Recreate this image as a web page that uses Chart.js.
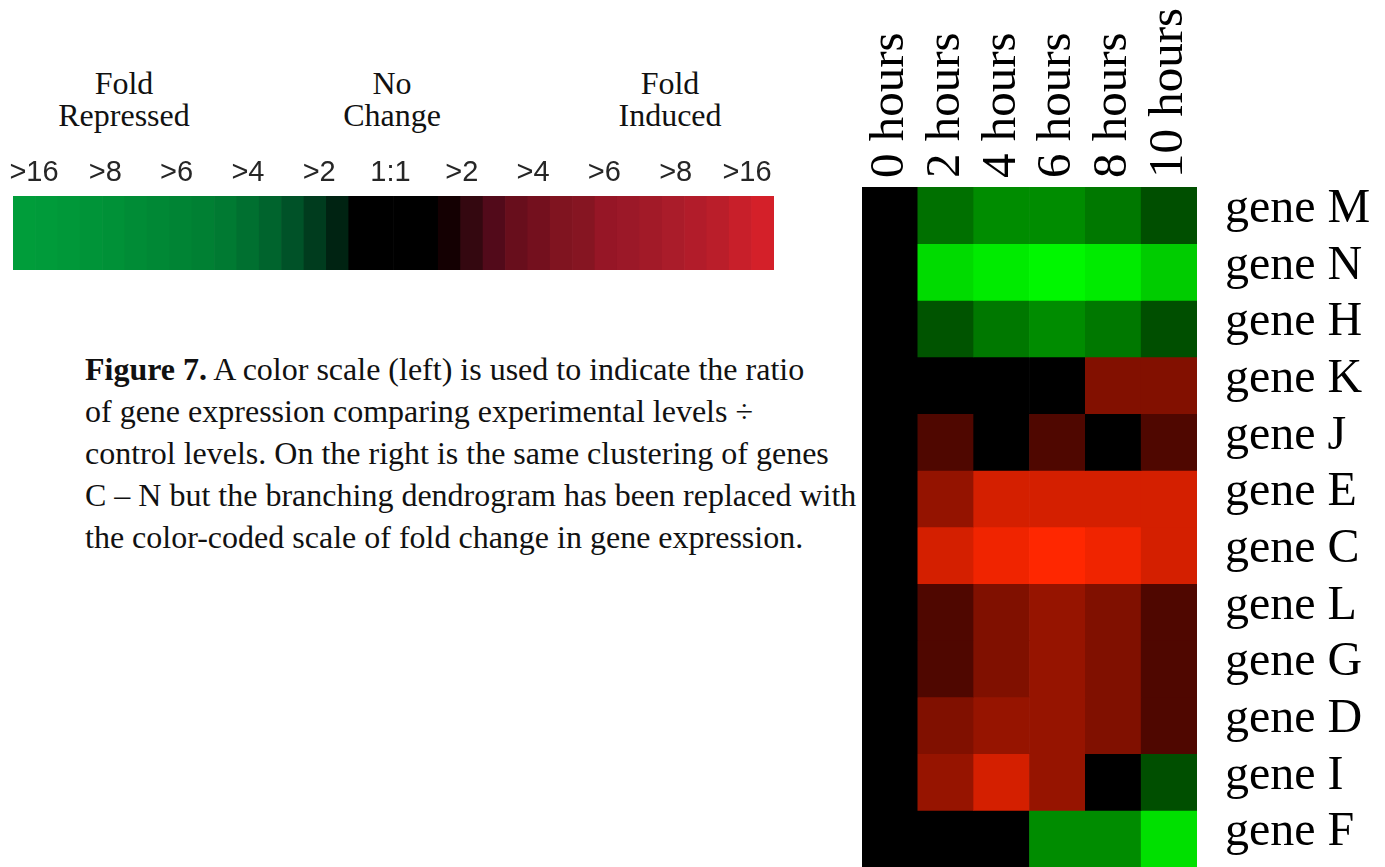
<!DOCTYPE html>
<html><head><meta charset="utf-8">
<script src="https://cdn.jsdelivr.net/npm/chart.js@4.4.1/dist/chart.umd.min.js"></script>
<style>
html,body{margin:0;padding:0;background:#fff;width:1385px;height:867px;overflow:hidden;}
.abs{position:absolute;}
.hdr{font-family:"Liberation Serif","Times New Roman",serif;font-size:32px;line-height:32px;text-align:center;width:240px;color:#111;}
#caption{left:85px;top:348px;font-family:"Liberation Serif","Times New Roman",serif;font-size:32px;line-height:42px;white-space:nowrap;color:#111;}
</style></head><body>
<div class="abs hdr" style="left:4px;top:67px">Fold<br>Repressed</div>
<div class="abs hdr" style="left:272px;top:67px">No<br>Change</div>
<div class="abs hdr" style="left:550px;top:67px">Fold<br>Induced</div>
<div id="caption" class="abs"><b>Figure 7.</b> A color scale (left) is used to indicate the ratio<br>of gene expression comparing experimental levels ÷<br>control levels. On the right is the same clustering of genes<br>C – N but the branching dendrogram has been replaced with<br>the color-coded scale of fold change in gene expression.</div>
<div class="abs" style="left:0;top:140px;width:790px;height:140px"><canvas id="scale"></canvas></div>
<div class="abs" style="left:862px;top:0;width:523px;height:867px"><canvas id="heat"></canvas></div>
<script>
// ---- heatmap data (signed intensity: negative = repressed/green, positive = induced/red) ----
const hours = ['0 hours', '2 hours', '4 hours', '6 hours', '8 hours', '10 hours'];
const genes = ['gene M', 'gene N', 'gene H', 'gene K', 'gene J', 'gene E', 'gene C', 'gene L', 'gene G', 'gene D', 'gene I', 'gene F'];
const geneM = [0, -0.44, -0.55, -0.55, -0.47, -0.31];
const geneN = [0, -0.86, -0.92, -0.97, -0.92, -0.80];
const geneH = [0, -0.33, -0.47, -0.55, -0.47, -0.31];
const geneK = [0, 0, 0, 0, 0.51, 0.51];
const geneJ = [0, 0.31, 0, 0.31, 0, 0.31];
const geneE = [0, 0.58, 0.83, 0.83, 0.83, 0.83];
const geneC = [0, 0.83, 0.94, 1.00, 0.94, 0.83];
const geneL = [0, 0.31, 0.50, 0.59, 0.50, 0.31];
const geneG = [0, 0.31, 0.50, 0.59, 0.50, 0.31];
const geneD = [0, 0.50, 0.59, 0.59, 0.50, 0.31];
const geneI = [0, 0.59, 0.83, 0.59, 0, -0.31];
const geneF = [0, 0, 0, -0.55, -0.55, -0.88];
const rows = [geneM, geneN, geneH, geneK, geneJ, geneE, geneC, geneL, geneG, geneD, geneI, geneF];

// ---- color scale data ----
const scaleTicks = ['>16', '>8', '>6', '>4', '>2', '1:1', '>2', '>4', '>6', '>8', '>16'];
const scaleLevels = [-15, -14, -13, -12, -11, -10, -9, -8, -7, -6, -5, -4, -3, -2, -1, 0, 0, 0, 0, 1, 2, 3, 4, 5, 6, 7, 8, 9, 10, 11, 12, 13, 14, 15];

// ---- styles ----
const scaleGreen = ['rgb(0,35,18)', 'rgb(0,60,30)', 'rgb(0,82,40)', 'rgb(0,100,45)', 'rgb(0,112,48)', 'rgb(0,122,50)', 'rgb(0,128,51)', 'rgb(0,132,52)', 'rgb(0,136,53)', 'rgb(0,140,54)', 'rgb(0,145,55)', 'rgb(0,148,56)', 'rgb(0,152,57)', 'rgb(0,155,58)', 'rgb(0,157,58)'];
const scaleRed = ['rgb(20,0,2)', 'rgb(52,8,16)', 'rgb(82,10,26)', 'rgb(104,14,28)', 'rgb(116,16,30)', 'rgb(128,20,32)', 'rgb(134,21,34)', 'rgb(150,22,38)', 'rgb(155,24,40)', 'rgb(162,26,40)', 'rgb(170,28,42)', 'rgb(178,28,42)', 'rgb(186,30,42)', 'rgb(200,31,42)', 'rgb(212,32,41)'];
function scaleColor(l) {
  if (l < 0) return scaleGreen[-l - 1];
  if (l > 0) return scaleRed[l - 1];
  return 'rgb(0,0,0)';
}
function heatColor(v) {
  if (v < 0) return 'rgb(0,' + Math.round(-v * 255) + ',0)';
  const r = Math.round(v * 255);
  const g = Math.round(Math.max(0, r - 40) * 0.18);
  return 'rgb(' + r + ',' + g + ',0)';
}
const serif = '"Liberation Serif", "Times New Roman", serif';
const sans = '"Liberation Sans", Arial, sans-serif';
function zeroPad(s) { s.paddingLeft = 0; s.paddingRight = 0; s.paddingTop = 0; s.paddingBottom = 0; }
const tickMin = -0.295, tickMax = 10.379;

Chart.defaults.animation = false;

// ---- color scale bar ----
new Chart(document.getElementById('scale'), {
  type: 'bar',
  data: {
    labels: scaleLevels.map(String),
    datasets: [{
      data: scaleLevels.map(() => 1),
      backgroundColor: scaleLevels.map(scaleColor),
      borderWidth: 0, barPercentage: 1, categoryPercentage: 1
    }]
  },
  options: {
    responsive: true, maintainAspectRatio: false,
    layout: { padding: { left: 13, right: 16, top: 0, bottom: 10 } },
    plugins: { legend: { display: false }, tooltip: { enabled: false } },
    scales: {
      x: { display: false },
      y: { display: false, min: 0, max: 1 },
      x2: {
        type: 'linear', position: 'top', offset: false, min: tickMin, max: tickMax, bounds: 'data',
        grid: { display: false, drawTicks: false, offset: false }, border: { display: false },
        afterBuildTicks: s => {
          s.ticks = scaleTicks.map((t, i) => ({ value: i }));
          s.min = tickMin; s.max = tickMax;
        },
        afterFit: s => { s.height = 56; zeroPad(s); },
        ticks: {
          autoSkip: false, maxRotation: 0, minRotation: 0, padding: 6,
          color: '#262626', font: { family: sans, size: 29 },
          callback: (v) => scaleTicks[Math.round(v)]
        }
      }
    }
  }
});

// ---- heatmap ----
new Chart(document.getElementById('heat'), {
  type: 'bar',
  data: {
    labels: hours,
    datasets: rows.map((vals, i) => ({
      label: genes[i],
      data: vals.map(() => 1),
      backgroundColor: vals.map(heatColor),
      borderWidth: 0, barPercentage: 1, categoryPercentage: 1,
      stack: 'heat'
    }))
  },
  options: {
    responsive: true, maintainAspectRatio: false,
    layout: { padding: 0 },
    plugins: { legend: { display: false }, tooltip: { enabled: false } },
    scales: {
      x: {
        position: 'top', stacked: true,
        grid: { display: false, drawTicks: false }, border: { display: false },
        afterFit: s => { s.height = 187; zeroPad(s); },
        ticks: {
          autoSkip: false, minRotation: 90, maxRotation: 90, padding: 9, labelOffset: 59,
          color: '#000', font: { family: serif, size: 49 }
        }
      },
      y: { display: false, stacked: true, min: 0, max: genes.length, reverse: true },
      y2: {
        type: 'category', labels: genes, position: 'right', offset: true,
        grid: { display: false, drawTicks: false }, border: { display: false },
        afterFit: s => { s.width = 188; zeroPad(s); },
        ticks: {
          autoSkip: false, padding: 28, labelOffset: -6,
          color: '#000', font: { family: serif, size: 48 }
        }
      }
    }
  }
});
</script>
</body></html>
